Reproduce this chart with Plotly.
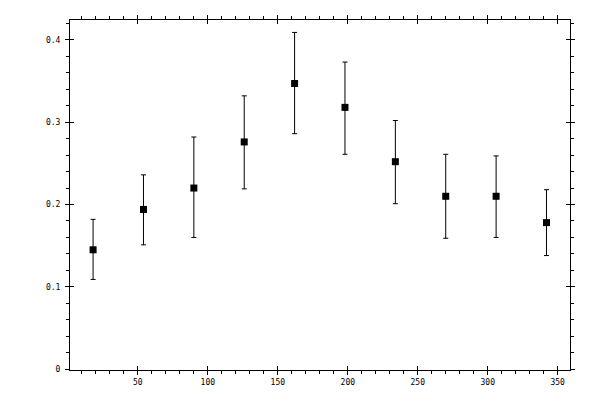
import plotly.graph_objects as go

# data
x_vals = [18, 54, 90, 126, 162, 198, 234, 270, 306, 342]
y_vals = [0.145, 0.194, 0.220, 0.276, 0.347, 0.318, 0.252, 0.210, 0.210, 0.178]
y_high = [0.182, 0.236, 0.282, 0.332, 0.409, 0.373, 0.302, 0.261, 0.259, 0.218]
y_low  = [0.109, 0.151, 0.160, 0.219, 0.286, 0.261, 0.201, 0.159, 0.160, 0.138]

err_plus  = [h - y for h, y in zip(y_high, y_vals)]
err_minus = [y - l for y, l in zip(y_vals, y_low)]

X_RANGE = [1.5, 358.8]
Y_RANGE = [-0.001, 0.4241]
FONT = dict(family='DejaVu Sans Mono', size=8, color='black')

fig = go.Figure()

fig.add_trace(go.Scatter(
    x=x_vals, y=y_vals,
    mode='markers',
    marker=dict(symbol='square', size=7, color='black'),
    error_y=dict(type='data', symmetric=False,
                 array=err_plus, arrayminus=err_minus,
                 color='black', thickness=1, width=2.5),
    showlegend=False, hoverinfo='skip'
))

# invisible copy so the inside-tick overlay axes get drawn
fig.add_trace(go.Scatter(
    x=x_vals, y=y_vals, xaxis='x2', yaxis='y2',
    mode='markers', marker=dict(opacity=0),
    showlegend=False, hoverinfo='skip'
))

axis_common = dict(showgrid=False, zeroline=False, showline=True,
                   linecolor='black', linewidth=1, tickcolor='black',
                   tickwidth=1, tickfont=FONT, automargin=False)

# main axes: major + minor ticks outside, on all four sides
fig.update_layout(
    xaxis=dict(axis_common, range=X_RANGE, tick0=0, dtick=50,
               ticks='outside', ticklen=4, mirror='allticks',
               minor=dict(dtick=10, ticks='outside', ticklen=3,
                          tickcolor='black', tickwidth=1)),
    yaxis=dict(axis_common, range=Y_RANGE, tick0=0, dtick=0.1,
               ticks='outside', ticklen=4, mirror='allticks',
               ticklabelstandoff=3,
               minor=dict(dtick=0.02, ticks='outside', ticklen=3,
                          tickcolor='black', tickwidth=1)),
    # overlay axes: the inner half of the major ticks
    xaxis2=dict(axis_common, range=X_RANGE, overlaying='x', side='bottom',
                tick0=0, dtick=50, ticks='inside', ticklen=4,
                mirror='ticks', showticklabels=False),
    yaxis2=dict(axis_common, range=Y_RANGE, overlaying='y', side='left',
                tick0=0, dtick=0.1, ticks='inside', ticklen=4,
                mirror='ticks', showticklabels=False),
    width=600, height=400,
    # page body adds an 8px offset, margins compensate for it
    margin=dict(l=61.5, r=38, t=11.5, b=38),
    paper_bgcolor='white', plot_bgcolor='white',
    font=FONT,
)

fig.write_html("out.html")
